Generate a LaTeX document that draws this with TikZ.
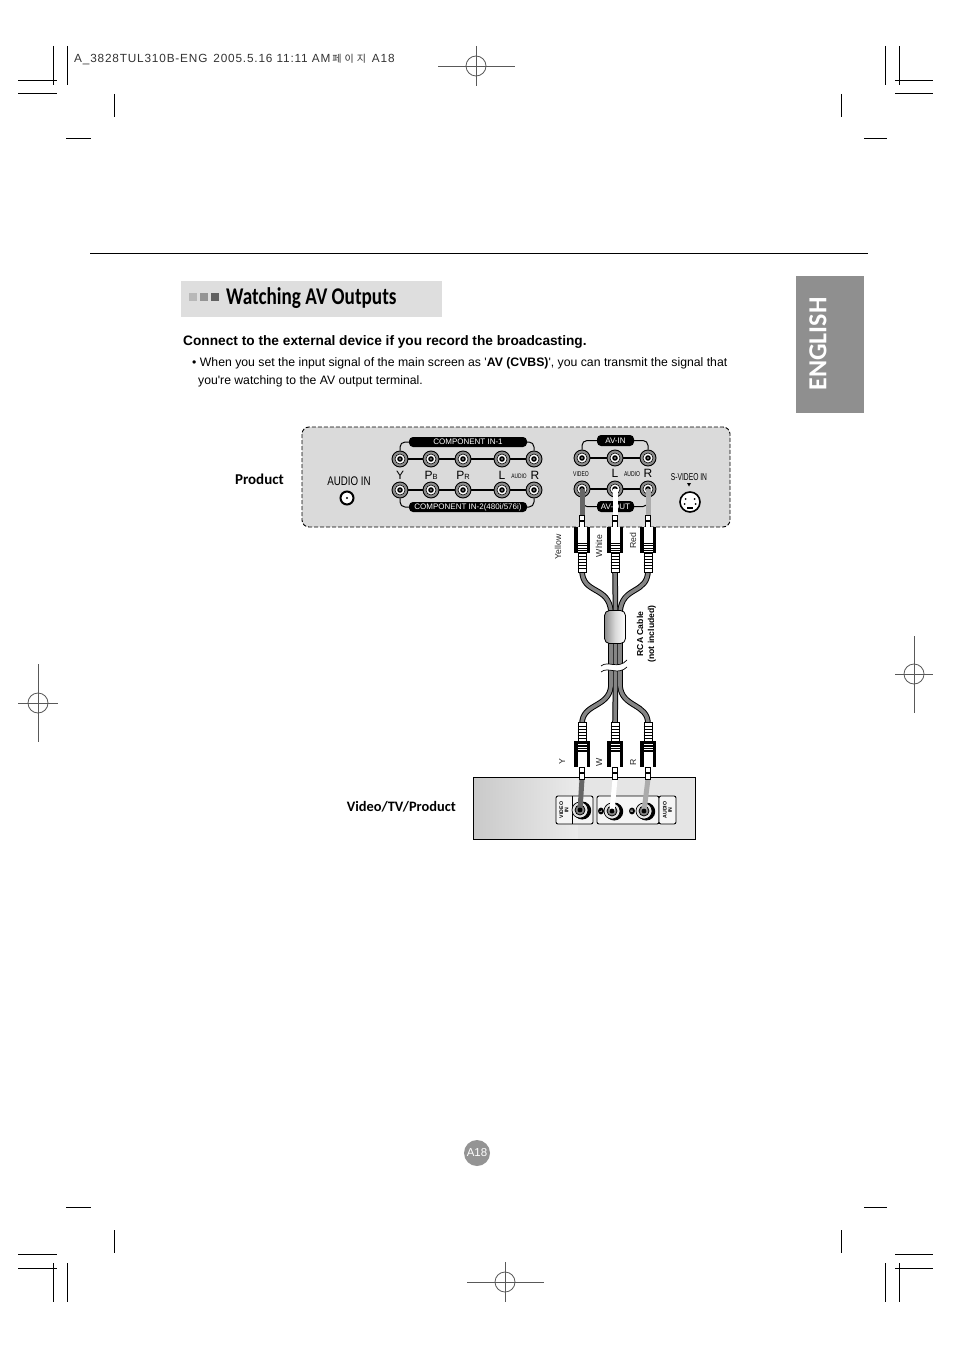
\documentclass[tikz,border=0pt]{standalone}
\usepackage{fontspec}
\setmainfont{Liberation Sans}
\newfontfamily\plainf{Liberation Sans}
\newfontfamily\cjkf{Noto Sans CJK KR}
\newfontfamily\headf{Carlito}
\usetikzlibrary{calc}
\definecolor{panelgray}{HTML}{DADADA}
\definecolor{wiredark}{HTML}{666666}
\definecolor{wirelight}{HTML}{ABABAB}
\definecolor{cablegray}{HTML}{858585}
\newcommand{\fs}[1]{\fontsize{#1}{#1}\selectfont}
\tikzset{
 crop/.style={line width=1pt,black},
 reg/.style={line width=0.8pt,black!65},
 pill/.style={fill=black,text=white,rounded corners=4pt,inner sep=0pt,font=\fs{8},minimum height=10pt,anchor=center},
 rail/.style={line width=2.4pt,black},
 bracket/.style={line width=1pt,black,rounded corners=5pt},
 jackouter/.style={circle,draw=black,line width=0.9pt,fill=black!45,minimum size=16pt,inner sep=0pt},
 wire/.style={line width=5pt},
 cable/.style={line width=5.6pt,black},
 cablein/.style={line width=3.6pt,cablegray},
 lab/.style={font=\fs{8.7},inner sep=0pt,black!85},
 port/.style={font=\fs{12},inner sep=0pt,black},
 tiny/.style={font=\fs{6},inner sep=0pt,black},
 head/.style={font=\headf\bfseries\fs{14.6},inner sep=0pt},
 tvtag/.style={font=\bfseries\fs{5.2},inner sep=0pt,align=center,rotate=90},
 tvpanel/.style={draw=black,line width=0.9pt,fill=black!4,rounded corners=2pt},
}
\newcommand{\jack}[3]{%
 \node[jackouter] (#1) at (#2,#3) {};
 \fill[white,draw=black,line width=0.6pt] (#2,#3) circle (5);
 \fill[black] (#2,#3) circle (2.8);
 \fill[black!45] (#2,#3) circle (1.1);
}
\newcommand{\tvjack}[3]{%
 \fill[black] (#2+2.2,#3+0.5) circle (9);
 \node[circle,draw=black,line width=0.7pt,fill=black!10,minimum size=16pt,inner sep=0pt] (#1) at (#2,#3) {};
 \fill[black!50,draw=black,line width=0.8pt] (#2,#3) circle (5);
}
\newcommand{\regmark}[7]{% cx cy r x1 x2 y1 y2
 \draw[reg] (#4,#2) -- (#5,#2);
 \draw[reg] (#1,#6) -- (#1,#7);
 \draw[reg] (#1,#2) circle (#3);
}
\newcommand{\plug}[3]{% x, y at body/pin joint, direction
 \begin{scope}[shift={(#1,#2)},yscale=#3]
  \draw[black,line width=0.8pt,fill=white] (-2.6,-12) rectangle (2.6,0);
  \fill[black] (-2.6,-7) rectangle (2.6,-5);
  \fill[black] (-8,0) rectangle (8,26);
  \fill[white] (-4.5,0) rectangle (4.5,14);
  \fill[white] (-4.5,14) rectangle (4.5,24.5);
  \foreach \yy in {15.5,18,20.5,23} \fill[black] (-4.5,\yy) rectangle (4.5,\yy+1.2);
  \draw[black,line width=0.8pt,fill=white] (-4,26) rectangle (4,45);
  \foreach \yy in {29,32,35,38,41} \draw[black,line width=0.9pt] (-4.5,\yy) -- (4.5,\yy);
 \end{scope}
}
\begin{document}
\begin{tikzpicture}[x=1pt,y=-1pt]
\useasboundingbox (0,0) rectangle (954,1351);
\fill[white] (0,0) rectangle (954,1351);

% crop marks
\foreach \x in {53,67,885,899} \draw[crop] (\x,46) -- (\x,85);
\foreach \x in {53,67,885,899} \draw[crop] (\x,1263) -- (\x,1302);
\foreach \y in {81,94} {\draw[crop] (18,\y) -- (57,\y); \draw[crop] (895,\y) -- (933,\y);}
\foreach \y in {1254,1268} {\draw[crop] (18,\y) -- (57,\y); \draw[crop] (895,\y) -- (933,\y);}
\foreach \x in {114,841} {\draw[crop] (\x,94) -- (\x,117); \draw[crop] (\x,1230) -- (\x,1253);}
\draw[crop] (66,139) -- (91,139); \draw[crop] (864,139) -- (887,139);
\draw[crop] (66,1207) -- (91,1207); \draw[crop] (864,1207) -- (887,1207);

% registration marks
\regmark{476}{66}{10}{438}{515}{46}{86}{}
\regmark{38}{703}{10}{18}{58}{664}{742}{}
\regmark{914}{674}{10}{895}{933}{636}{713}{}
\regmark{505}{1282}{10}{467}{544}{1262}{1302}{}

% slug line
\node[inner sep=0pt,anchor=base west,font=\fs{11.8},black!80] (slug) at (74,63)
 {\addfontfeature{LetterSpace=7}A\_3828TUL310B-ENG\hspace{6pt}2005.5.16 11:11 AM\hspace{2pt}{\cjkf\fs{10}페\hspace{3pt}이\hspace{3pt}지}\hspace{6pt}A18};

% top rule
\draw[line width=1pt] (90,253) -- (868,253);

% title bar
\fill[black!13] (181,281) rectangle (442,317);
\fill[black!28] (189,293) rectangle (197,301);
\fill[black!42] (200,293) rectangle (208,301);
\fill[black!62] (211,293) rectangle (219,301);
\node[inner sep=0pt,anchor=base west,font=\headf\bfseries\fs{24},xscale=.8,transform shape] (title) at (226,304) {Watching AV Outputs};

% English tab
\fill[black!44] (796,276) rectangle (864,413);
\node[inner sep=0pt,font=\headf\bfseries\fs{26},text=white,rotate=90] (english) at (818,344) {ENGLISH};

% body text
\node[inner sep=0pt,anchor=base west,font=\plainf\bfseries\fs{13.7}] (lead) at (183,345) {Connect to the external device if you record the broadcasting.};
\node[inner sep=0pt,anchor=base west,font=\plainf\fs{12.25}] (b1) at (192,366) {• When you set the input signal of the main screen as '\textbf{AV (CVBS)}', you can transmit the signal that};
\node[inner sep=0pt,anchor=base west,font=\plainf\fs{12.2}] (b2) at (198,384) {you're watching to the AV output terminal.};

% labels
\node[head,anchor=base east,font=\headf\bfseries\fs{15}] (prodlab) at (284,484) {Product};
\node[head,anchor=base east,font=\headf\bfseries\fs{14.4}] (tvlab) at (456,811) {Video/TV/Product};

% panel
\draw[black,line width=0.9pt,dash pattern=on 4pt off 2pt,fill=panelgray,rounded corners=7pt] (302,427) rectangle (730,527);

% audio in
\node[font=\fs{12.5},inner sep=0pt,xscale=0.78,transform shape] (audiolab) at (349,481) {AUDIO IN};
\node[circle,draw=black,line width=2pt,fill=white,minimum size=13pt,inner sep=0pt] (audiojack) at (347,498) {};
\fill[black] (347,498) circle (1.1);

% component jacks
\foreach \n/\x in {a/400,b/431,c/463,d/502,e/534} {\jack{u\n}{\x}{459}\jack{l\n}{\x}{490}}
\draw[rail] (ua) -- (ub); \draw[rail] (ub) -- (uc); \draw[rail] (uc) -- (ud); \draw[rail] (ud) -- (ue);
\draw[rail] (la) -- (lb); \draw[rail] (lb) -- (lc); \draw[rail] (lc) -- (ld); \draw[rail] (ld) -- (le);
\node[pill,minimum width=118pt] (comp1) at (468,442) {COMPONENT IN-1};
\node[pill,minimum width=118pt,font=\fs{8}] (comp2) at (468,507) {COMPONENT IN-2(480i/576i)};
\draw[bracket] (comp1.west) -| (ua.north);
\draw[bracket] (comp1.east) -| (ue.north);
\draw[bracket] (comp2.west) -| (la.south);
\draw[bracket] (comp2.east) -| (le.south);
\node[port] (ly) at (400,475) {Y};
\node[port] (lpb) at (431,475) {P{\fs{7.5}B}};
\node[port] (lpr) at (463,475) {P{\fs{7.5}R}};
\node[port] (ll) at (502,475) {L};
\node[tiny,font=\fs{6.5},xscale=.75,transform shape] (laud) at (519,476) {AUDIO};
\node[port] (lr) at (535,475) {R};

% AV jacks
\foreach \n/\x in {a/582,b/615,c/648} {\jack{vu\n}{\x}{458}\jack{vl\n}{\x}{489}}
\draw[rail] (vua) -- (vub); \draw[rail] (vub) -- (vuc);
\draw[rail] (vla) -- (vlb); \draw[rail] (vlb) -- (vlc);
\node[pill,minimum width=37pt,minimum height=11pt] (avin) at (615.5,440.5) {AV-IN};
\node[pill,minimum width=37pt,minimum height=11pt] (avout) at (615.5,506.5) {AV-OUT};
\draw[bracket] (avin.west) -| (vua.north);
\draw[bracket] (avin.east) -| (vuc.north);
\draw[bracket] (avout.west) -| (vla.south);
\draw[bracket] (avout.east) -| (vlc.south);
\node[tiny,font=\fs{7},xscale=.72,transform shape] (lvid) at (581,474) {VIDEO};
\node[port] (lvl) at (615,473) {L};
\node[tiny,font=\fs{7},xscale=.72,transform shape] (lvaud) at (632,474) {AUDIO};
\node[port] (lvr) at (648,473) {R};

% S-video
\node[font=\fs{10},inner sep=0pt,xscale=.67,transform shape] (svlab) at (689,477) {S-VIDEO IN};
\fill[black] (687,483) -- (691,483) -- (689,486.5) -- cycle;
\node[circle,draw=black,line width=1.6pt,fill=white,minimum size=20pt,inner sep=0pt] (sv) at (690,502) {};
\foreach \dx/\dy in {-4.5/-3,4.5/-3,-5.5/2,5.5/2} \fill[black] (690+\dx,502+\dy) circle (1);
\fill[black] (687,506.5) rectangle (693,508.5);

% plug coordinates
\coordinate (pta) at (582,515);
\coordinate (ptb) at (615,515);
\coordinate (ptc) at (648,515);
\coordinate (pba) at (582,779);
\coordinate (pbb) at (615,779);
\coordinate (pbc) at (648,779);

% wires at the product
\draw[wire,wiredark] (vla.center) -- (pta);
\draw[wire,white] (vlb.center) -- (ptb);
\draw[wire,wirelight] (vlc.center) -- (ptc);

% cable coordinates
\coordinate (ca1) at (582,570);
\coordinate (cb1) at (615,570);
\coordinate (cc1) at (648,570);
\coordinate (ca2) at (611,612);
\coordinate (cb2) at (615.5,612);
\coordinate (cc2) at (620,612);
\coordinate (ca3) at (611,686);
\coordinate (cb3) at (615.5,686);
\coordinate (cc3) at (620,686);
\coordinate (ca4) at (582,724);
\coordinate (cb4) at (615,724);
\coordinate (cc4) at (648,724);

\foreach \st in {cable,cablein}{
 \draw[\st] (ca1) .. controls (582,595) and (609,585) .. (ca2) -- (ca3) .. controls (609,708) and (582,703) .. (ca4);
 \draw[\st] (cc1) .. controls (648,595) and (622,585) .. (cc2) -- (cc3) .. controls (622,708) and (648,703) .. (cc4);
 \draw[\st] (cb1) -- (cb2) -- (cb3) -- (cb4);
}
% break in the cable
\fill[white] (601,666) .. controls (608,660) and (618,670) .. (627,660) -- (627,667) .. controls (618,676) and (608,666) .. (601,672) -- cycle;
\draw[black,line width=0.7pt] (601,666) .. controls (608,660) and (618,670) .. (627,660);
\draw[black,line width=0.7pt] (601,672) .. controls (608,666) and (618,676) .. (627,667);

% ferrite
\node[draw=black,line width=0.8pt,rounded corners=5pt,left color=black!45,right color=white,middle color=black!15,minimum width=21pt,minimum height=33pt,inner sep=0pt] (ferrite) at (615,627) {};

% plugs
\plug{582}{527}{1}
\plug{615}{527}{1}
\plug{648}{527}{1}
\plug{582}{767}{-1}
\plug{615}{767}{-1}
\plug{648}{767}{-1}

% cable labels
\node[lab,rotate=90] (yel) at (558,547) {Yellow};
\node[lab,rotate=90] (whi) at (599,546) {White};
\node[lab,rotate=90] (red) at (633,541) {Red};
\node[font=\bfseries\fs{8.6},inner sep=0pt,rotate=90] (rca1) at (640,634) {RCA Cable};
\node[font=\bfseries\fs{8.6},inner sep=0pt,rotate=90] (rca2) at (652,634) {(not included)};
\node[lab,rotate=90] (ly2) at (562,762) {Y};
\node[lab,rotate=90] (lw2) at (599,762) {W};
\node[lab,rotate=90] (lr2) at (633,762) {R};

% TV box
\fill[black!10] (473,777) rectangle (695,839);
\shade[left color=black!21,right color=black!8] (473,777) rectangle (578,839);
\draw[black,line width=1pt] (473,777) rectangle (695,839);
\draw[tvpanel] (556,796) rectangle (593,824);
\draw[black,line width=0.8pt] (572,796) -- (572,824);
\draw[tvpanel] (597,796) rectangle (659,824);
\draw[tvpanel] (659,796) rectangle (676,824);
\node[tvtag] (tvv) at (564,810) {VIDEO\\IN};
\node[tvtag] (tva) at (667.5,810) {AUDIO\\IN};
\tvjack{ta}{580}{810}
\tvjack{tb}{612}{811}
\tvjack{tc}{644}{811}
\fill[black] (601,811) ellipse (3 and 3.4);
\fill[black] (632,811) ellipse (3 and 3.4);
\node[font=\bfseries\fs{3.6},text=white,inner sep=0pt,rotate=90] (tl) at (601,811) {L};
\node[font=\bfseries\fs{3.6},text=white,inner sep=0pt,rotate=90] (tr) at (632,811) {R};
\draw[wire,wiredark] (pba) -- (ta.center);
\draw[wire,white] (pbb) -- (tb.center);
\draw[wire,wirelight] (pbc) -- (tc.center);
% pins redrawn over wires
\foreach \x in {582,615,648} {
 \draw[black,line width=0.8pt,fill=white] (\x-2.6,767) rectangle (\x+2.6,779);
 \fill[black] (\x-2.6,772) rectangle (\x+2.6,774);
}
\fill[black] (580,810) circle (2.4);
\fill[black] (612,811) circle (2.4);
\fill[black] (644,811) circle (2.4);

% page badge
\node[circle,fill=black!42,minimum size=26pt,inner sep=0pt,text=white,font=\fs{11.5}] (page) at (477,1153) {A18};
\end{tikzpicture}
\end{document}
